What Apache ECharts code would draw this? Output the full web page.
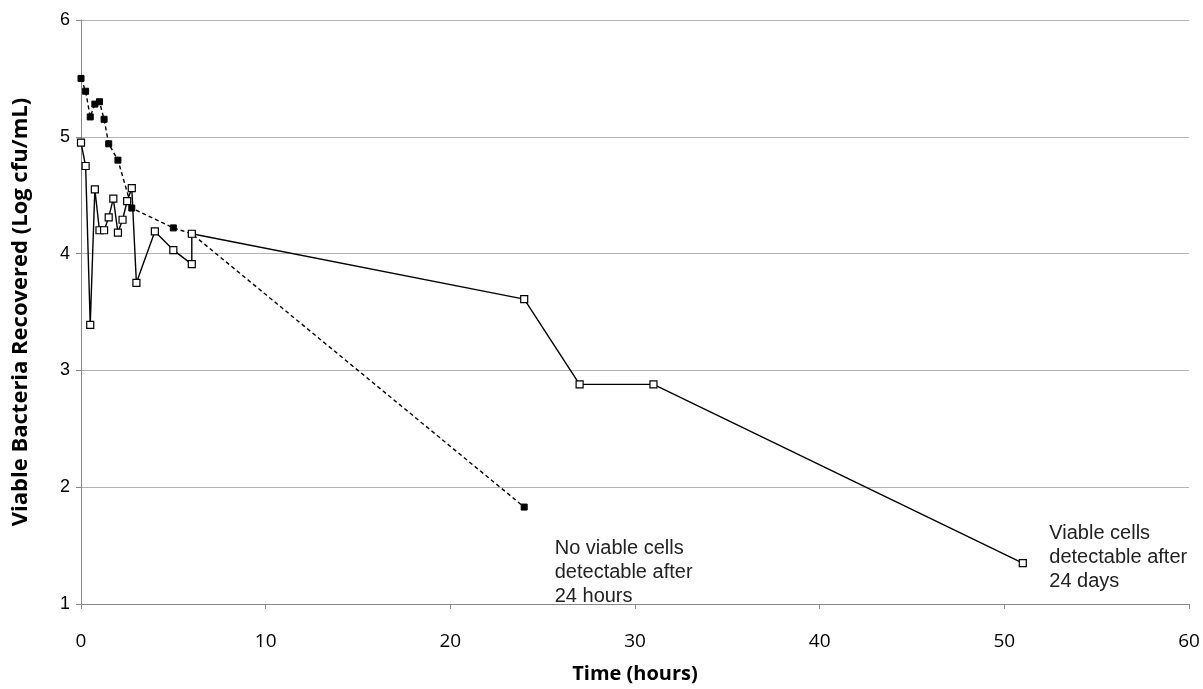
<!DOCTYPE html>
<html><head><meta charset="utf-8">
<script src="https://cdn.jsdelivr.net/npm/echarts@6/dist/echarts.min.js"></script>
<style>html,body{margin:0;padding:0;background:#fff}#c{width:1203px;height:689px}</style>
</head><body><div id="c"></div>
<script>
// Dashed series (filled squares): time (h), log cfu/mL
const timeA = [0, 0.25, 0.5, 0.75, 1.0, 1.25, 1.5, 2.0, 2.75, 5, 6, 24];
const valA  = [5.50, 5.39, 5.17, 5.28, 5.30, 5.15, 4.94, 4.80, 4.39, 4.22, 4.17, 1.83];
// Solid series (open squares)
const timeB = [0, 0.25, 0.5, 0.75, 1.0, 1.25, 1.5, 1.75, 2.0, 2.25, 2.5, 2.75, 3.0, 4, 5, 6, 6, 24, 27, 31, 51];
const valB  = [4.95, 4.75, 3.39, 4.55, 4.20, 4.20, 4.31, 4.47, 4.18, 4.29, 4.45, 4.56, 3.75, 4.19, 4.03, 3.91, 4.17, 3.61, 2.88, 2.88, 1.35];
const annA = 'No viable cells\ndetectable after\n24 hours';
const annB = 'Viable cells\ndetectable after\n24 days';

const chart = echarts.init(document.getElementById('c'));
const ff = '"Open Sans", "Liberation Sans", sans-serif';
const arial = '"Liberation Sans", Arial, sans-serif';
const pair = (t, v) => t.map((x, i) => [x, v[i]]);
const annLabel = (txt, pos) => ({
  show: true, formatter: txt, position: pos, align: 'left', verticalAlign: 'top',
  fontFamily: arial, fontSize: 20, lineHeight: 24, color: '#222'
});
chart.setOption({
  animation: false,
  grid: { left: 81, right: 14, top: 20, bottom: 84 },
  xAxis: {
    type: 'value', min: 0, max: 60, interval: 10,
    name: 'Time (hours)', nameLocation: 'middle', nameGap: 60,
    nameTextStyle: { fontFamily: ff, fontSize: 20, fontWeight: 'bold', color: '#000' },
    axisLine: { lineStyle: { color: '#888', width: 1 } },
    axisTick: { show: true, length: 5, lineStyle: { color: '#888' } },
    axisLabel: { fontFamily: ff, fontSize: 19, color: '#000', margin: 28 },
    splitLine: { show: false }
  },
  yAxis: {
    type: 'value', min: 1, max: 6, interval: 1,
    name: 'Viable Bacteria Recovered (Log cfu/mL)', nameLocation: 'middle', nameGap: 49,
    nameTextStyle: { fontFamily: ff, fontSize: 22, fontWeight: 'bold', color: '#000' },
    axisLine: { show: true, lineStyle: { color: '#888', width: 1 } },
    axisTick: { show: true, length: 5, lineStyle: { color: '#888' } },
    axisLabel: { fontFamily: arial, fontSize: 18, color: '#000', margin: 11 },
    splitLine: { show: true, lineStyle: { color: '#b3b3b3', width: 1 } }
  },
  series: [
    {
      type: 'line', data: pair(timeA, valA),
      symbol: 'rect', symbolSize: 6,
      itemStyle: { color: '#000', borderColor: '#000' },
      lineStyle: { color: '#000', width: 1.4, type: [4, 3] },
      markPoint: {
        symbol: 'rect', symbolSize: 1, itemStyle: { color: 'rgba(0,0,0,0)' },
        data: [{ coord: [timeA[timeA.length - 1], valA[valA.length - 1]], label: annLabel(annA, [31, 30]) }]
      }
    },
    {
      type: 'line', data: pair(timeB, valB),
      symbol: 'rect', symbolSize: 7,
      itemStyle: { color: '#fff', borderColor: '#000', borderWidth: 1.2 },
      lineStyle: { color: '#000', width: 1.4 },
      markPoint: {
        symbol: 'rect', symbolSize: 1, itemStyle: { color: 'rgba(0,0,0,0)' },
        data: [{ coord: [timeB[timeB.length - 1], valB[valB.length - 1]], label: annLabel(annB, [27, -41]) }]
      }
    }
  ]
});
</script></body></html>
